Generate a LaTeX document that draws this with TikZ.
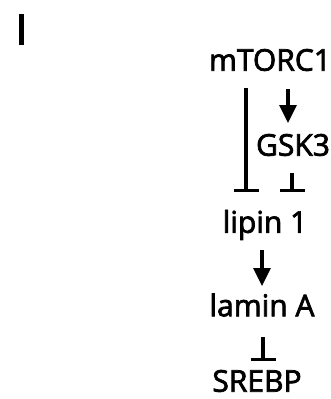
\documentclass[tikz,border=0pt]{standalone}
\usepackage{fontspec}
\setmainfont{Open Sans}
\newfontfamily\lblfont{Open Sans}[FakeBold=2.4]
\usetikzlibrary{arrows.meta}
\begin{document}
\begin{tikzpicture}[x=1pt,y=-1pt,
  lbl/.style={inner sep=0pt,font=\lblfont\fontsize{30}{34}\selectfont},
  act/.style={line width=3.2pt,-{Triangle[width=17pt,length=18pt]}},
  inh/.style={line width=3.2pt,-{Bar[width=25pt,line width=3.2pt]}}]
\useasboundingbox (0,0) rectangle (330,399);
\fill (18.5,14) rectangle (23.5,45);
\node[lbl] (mtor) at (270,60) {mTORC1};
\node[lbl] (gsk) at (293,145) {GSK3};
\node[lbl] (lipin) at (265,225) {lipin 1};
\node[lbl] (lamin) at (262,305) {lamin A};
\node[lbl] (srebp) at (257,381) {SREBP};
\coordinate (a1) at (246,88);
\coordinate (a2) at (246,192);
\draw[inh] (a1) -- (a2);
\coordinate (b1) at (288,89);
\coordinate (b2) at (288,123);
\draw[act] (b1) -- (b2);
\coordinate (c1) at (292,173);
\coordinate (c2) at (292,192);
\draw[inh] (c1) -- (c2);
\coordinate (d1) at (262,250);
\coordinate (d2) at (262,286);
\draw[act] (d1) -- (d2);
\coordinate (e1) at (263,337);
\coordinate (e2) at (263,361);
\draw[inh] (e1) -- (e2);
\end{tikzpicture}
\end{document}
